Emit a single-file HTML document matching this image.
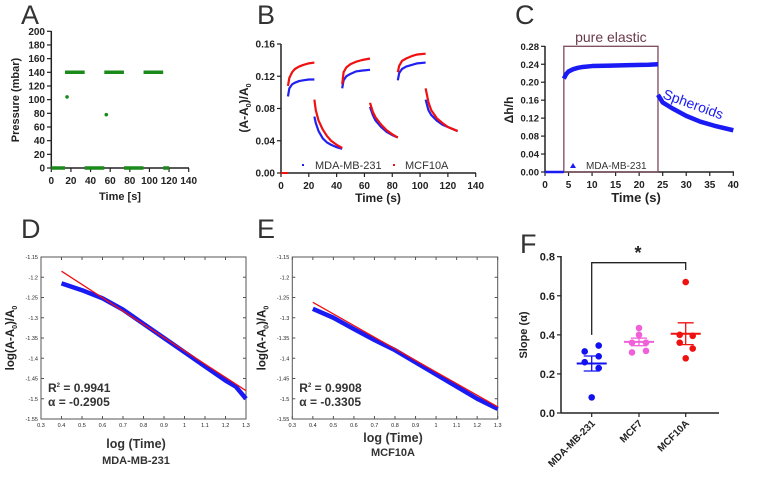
<!DOCTYPE html>
<html><head><meta charset="utf-8"><style>
body{margin:0;background:#fff;}
svg{display:block;font-family:"Liberation Sans",Arial,sans-serif;}
.t{font-weight:bold;font-size:10px;fill:#222}
.L{font-size:27px;fill:#333}
</style></head><body>
<svg id="s" width="763" height="493" viewBox="0 0 763 493"></svg>
<script>
// ---- Panel A data
const aTimes=[[0,14],[34,54],[74,94],[114,120]];
const aHigh=[[14,34],[54,74],[94,114]];
const aHighVal=140, aLowVal=0;
const aOutT=[14,54], aOutV=[104,78];
// ---- Panel B data
const bTimes=[[5,6,8,10,13,16,20,24],[24,25,27,30,33,36,40,44],[44,45,47,50,54,58,64],[64,66,68,72,76,80,84],[84,85,87,90,94,98,104],[104,106,108,112,116,120,127]];
const bBlue=[[0.095,0.105,0.110,0.112,0.114,0.115,0.116,0.116],[0.070,0.062,0.052,0.043,0.038,0.035,0.032,0.030],[0.105,0.115,0.120,0.123,0.126,0.127,0.128],[0.082,0.072,0.065,0.057,0.051,0.047,0.044],[0.115,0.124,0.129,0.132,0.134,0.136,0.137],[0.091,0.078,0.072,0.065,0.060,0.057,0.052]];
const bRed=[[0.108,0.118,0.125,0.129,0.132,0.134,0.136,0.137],[0.091,0.078,0.065,0.054,0.046,0.040,0.035,0.031],[0.110,0.125,0.131,0.135,0.138,0.140,0.142],[0.087,0.076,0.069,0.060,0.053,0.048,0.044],[0.125,0.133,0.139,0.142,0.145,0.147,0.148],[0.105,0.088,0.078,0.068,0.062,0.057,0.052]];
// ---- Panel C data
const cTimes=[[0,1,2,3,4],[4,4.5,5,6,7,8,10,14,18,22,24],[24,25,27,30,33,36,40]];
const cVals=[[0,0,0,0,0],[0.208,0.218,0.224,0.229,0.232,0.234,0.236,0.237,0.238,0.239,0.240],[0.172,0.155,0.142,0.125,0.112,0.103,0.093]];
// ---- Panel D/E data
const dX=[0.4,0.5,0.6,0.7,0.8,0.9,1.0,1.1,1.2,1.25,1.3];
const dBlue=[-1.215,-1.232,-1.252,-1.28,-1.315,-1.35,-1.385,-1.42,-1.455,-1.47,-1.5];
const dFit=[-1.185,-1.48];
const eX=[0.4,0.5,0.6,0.7,0.8,0.9,1.0,1.1,1.2,1.3];
const eBlue=[-1.278,-1.3,-1.328,-1.355,-1.38,-1.41,-1.44,-1.47,-1.5,-1.525];
const eFit=[-1.262,-1.52];
const logTicksX=[0.3,0.4,0.5,0.6,0.7,0.8,0.9,1,1.1,1.2,1.3];
const logTicksY=[-1.15,-1.2,-1.25,-1.3,-1.35,-1.4,-1.45,-1.5,-1.55];
// ---- Panel F data
const fCats=["MDA-MB-231","MCF7","MCF10A"];
const fVals=[[0.345,0.315,0.29,0.26,0.23,0.08],[0.435,0.40,0.36,0.36,0.31,0.318],[0.67,0.40,0.395,0.36,0.33,0.28]];
const fOff=[[7,-7,7,-7,7,0],[0,0,-7,7,-7,7],[0,-6,7,-6,7,0]];
const fColors=["#1010f0","#f060d8","#f01010"];

const S=document.getElementById('s');const NS='http://www.w3.org/2000/svg';
function el(t,a,p,txt){const e=document.createElementNS(NS,t);for(const k in a)e.setAttribute(k,a[k]);if(txt!==undefined)e.textContent=txt;(p||S).appendChild(e);return e;}
function lin(d0,d1,r0,r1){return v=>r0+(v-d0)/(d1-d0)*(r1-r0);}
function grp(name){const g=el('g',{});return g;}
function txt(g,x,y,s,cls,anchor,extra){
  const a={x:x,y:y,class:cls||'t','text-anchor':anchor||'middle'};let st='';
  for(const k in (extra||{})){if(k==='font-size')st+='font-size:'+extra[k]+'px;';else if(k==='fill'||k==='font-weight')st+=k+':'+extra[k]+';';else a[k]=extra[k];}
  if(st)a.style=st;return el('text',a,g,s);}
function letter(x,y,s){const g=grp('panel-label-'+s.toLowerCase());txt(g,x,y,s,'L','start');}

// ===== Panel A
letter(21,24,'A');
(function(){const g=grp('panel-a-pressure-chart');
const x=lin(0,140,51.3,188.7),y=lin(0,200,168,31.3);
el('line',{x1:51.3,y1:31,x2:51.3,y2:168,stroke:'#222','stroke-width':1.5},g);
el('line',{x1:51.3,y1:168,x2:189,y2:168,stroke:'#222','stroke-width':1.5},g);
for(let v=0;v<=200;v+=20){el('line',{x1:47,x2:51.3,y1:y(v),y2:y(v),stroke:'#222','stroke-width':1.2},g);txt(g,45,y(v)+3.5,v,'t','end');}
for(let v=0;v<=140;v+=20){el('line',{x1:x(v),x2:x(v),y1:168,y2:172,stroke:'#222','stroke-width':1.2},g);txt(g,x(v),184,v);}
txt(g,120,200,'Time [s]','t','middle',{'font-size':11});
txt(g,19,100,'Pressure (mbar)','t','middle',{transform:'rotate(-90 19 100)','font-size':11});
const sg=grp('pressure-series');
aTimes.forEach(r=>{const l=el('line',{x1:x(r[0]),x2:x(r[1]),y1:y(aLowVal),y2:y(aLowVal),stroke:'#1a8a1a','stroke-width':3.5},sg);});
aHigh.forEach(r=>{const l=el('line',{x1:x(r[0]),x2:x(r[1]),y1:y(aHighVal),y2:y(aHighVal),stroke:'#1a8a1a','stroke-width':3.5},sg);});
aOutT.forEach((t,i)=>{const c=el('circle',{cx:x(t)+2,cy:y(aOutV[i]),r:1.8,fill:'#1a8a1a'},sg);});
})();

// ===== Panel B
letter(257,24,'B');
(function(){const g=grp('panel-b-area-chart');
const x=lin(0,140,281,475.7),y=lin(0,0.16,173,44);
el('line',{x1:281,y1:44,x2:281,y2:173,stroke:'#222','stroke-width':1.5},g);
el('line',{x1:281,y1:173,x2:476,y2:173,stroke:'#222','stroke-width':1.5},g);
[0,0.04,0.08,0.12,0.16].forEach(v=>{el('line',{x1:277,x2:281,y1:y(v),y2:y(v),stroke:'#222','stroke-width':1.2},g);txt(g,275,y(v)+3.5,v.toFixed(2),'t','end');});
for(let v=0;v<=140;v+=20){el('line',{x1:x(v),x2:x(v),y1:173,y2:177,stroke:'#222','stroke-width':1.2},g);txt(g,x(v),189,v);}
txt(g,378,202,'Time (s)','t','middle',{'font-size':12});
const yt=el('text',{x:248,y:108,class:'t','text-anchor':'middle',transform:'rotate(-90 248 108)',style:'font-size:12px'},g);
yt.innerHTML='(A-A<tspan style="font-size:7px" dy="3">0</tspan><tspan dy="-3">)/A</tspan><tspan style="font-size:7px" dy="3">0</tspan>';
el('line',{x1:x(0),x2:x(5),y1:y(0),y2:y(0),stroke:'#f01010','stroke-width':2},g);
[['blue',bBlue,'#2020f0'],['red',bRed,'#f01010']].forEach(([n,arr,c])=>{
 arr.forEach((seg,i)=>{const pts=seg.map((v,j)=>x(bTimes[i][j])+','+y(v)).join(' ');
 const p=el('polyline',{points:pts,fill:'none',stroke:c,'stroke-width':2.2,'stroke-linejoin':'round'},g);});});
const lg=grp('legend');
el('rect',{x:302,y:164,width:2,height:2,fill:'#2020f0'},lg);txt(lg,315,169,'MDA-MB-231','t','start',{'font-weight':'normal','font-size':11,'fill':'#333'});
el('rect',{x:393,y:164,width:2,height:2,fill:'#f01010'},lg);txt(lg,405,169,'MCF10A','t','start',{'font-weight':'normal','font-size':11,'fill':'#333'});
})();

// ===== Panel C
letter(515,24,'C');
(function(){const g=grp('panel-c-strain-chart');
const x=lin(0,40,545,733.3),y=lin(0,0.28,172,46.3);
el('line',{x1:545,y1:46,x2:545,y2:172,stroke:'#222','stroke-width':1.5},g);
el('line',{x1:545,y1:172,x2:734,y2:172,stroke:'#222','stroke-width':1.5},g);
for(let v=0;v<=0.2801;v+=0.04){el('line',{x1:541,x2:545,y1:y(v),y2:y(v),stroke:'#222','stroke-width':1.2},g);txt(g,539,y(v)+3.5,v.toFixed(2),'t','end',{'font-size':9.5});}
for(let v=0;v<=40;v+=5){el('line',{x1:x(v),x2:x(v),y1:172,y2:176,stroke:'#222','stroke-width':1.2},g);txt(g,x(v),188,v);}
txt(g,636,202,'Time (s)','t','middle',{'font-size':13});
txt(g,513,110,'Δh/h','t','middle',{transform:'rotate(-90 513 110)','font-size':12});
const b=el('rect',{x:x(4),y:y(0.28),width:x(24)-x(4),height:y(0)-y(0.28),fill:'none',stroke:'#7a4a5a','stroke-width':1.3},g);
txt(g,x(14),42,'pure elastic','t','middle',{'font-weight':'normal','font-size':14,'fill':'#6a3a4a'});
cTimes.forEach((seg,i)=>{const pts=seg.map((t,j)=>x(t)+','+y(cVals[i][j])).join(' ');
 const p=el('polyline',{points:pts,fill:'none',stroke:'#1a1af5','stroke-width':i==0?2.5:4.5,'stroke-linejoin':'round'},g);});
txt(g,662,98,'Spheroids','t','start',{'font-weight':'normal','font-size':14,'fill':'#1a1af5',transform:'rotate(20 662 98)'});
el('polygon',{points:'570,168 573,163 576,168',fill:'#1a1af5'},g);
txt(g,586,169,'MDA-MB-231','t','start',{'font-weight':'normal','font-size':10,'fill':'#333'});
})();

// ===== Panels D / E
function logPanel(name,L,lx,x0,x1,xs,ys,fit,r2,al,cx,t1y,t2,t2y){
letter(lx,238,L);
const g=grp(name);
const x=lin(0.3,1.3,x0,x1),y=lin(-1.15,-1.55,257,419);
el('rect',{x:x0,y:257,width:x1-x0,height:162,fill:'none',stroke:'#555','stroke-width':1},g);
logTicksX.forEach(v=>{el('line',{x1:x(v),x2:x(v),y1:419,y2:416,stroke:'#555'},g);el('line',{x1:x(v),x2:x(v),y1:257,y2:260,stroke:'#555'},g);txt(g,x(v),427,String(v),'t','middle',{'font-size':5.5,'font-weight':'normal'});});
logTicksY.forEach(v=>{el('line',{x1:x0,x2:x0+3,y1:y(v),y2:y(v),stroke:'#555'},g);el('line',{x1:x1,x2:x1-3,y1:y(v),y2:y(v),stroke:'#555'},g);txt(g,x0-3,y(v)+2,String(v),'t','end',{'font-size':5.5,'font-weight':'normal'});});
const pts=xs.map((v,i)=>x(v)+','+y(ys[i])).join(' ');
const p=el('polyline',{points:pts,fill:'none',stroke:'#1a1af5','stroke-width':4.5,'stroke-linejoin':'round'},g);
const f=el('line',{x1:x(0.4),y1:y(fit[0]),x2:x(1.3),y2:y(fit[1]),stroke:'#f01010','stroke-width':1.3},g);
const r=el('text',{x:x0+7,y:392,class:'t','text-anchor':'start',style:'font-size:12px;fill:#333'},g);r.innerHTML='R<tspan style="font-size:6px" dy="-5">2</tspan><tspan dy="5"> = '+r2+'</tspan>';
txt(g,x0+7,406,'α = '+al,'t','start',{'font-size':12,fill:'#333'});
const yl=el('text',{x:x0-27,y:338,class:'t','text-anchor':'middle',transform:'rotate(-90 '+(x0-27)+' 338)',style:'font-size:11.5px'},g);
yl.innerHTML='log(A-A<tspan style="font-size:7px" dy="3">0</tspan><tspan dy="-3">)/A</tspan><tspan style="font-size:7px" dy="3">0</tspan>';
txt(g,cx,t1y,'log (Time)','t','middle',{'font-size':12.5,fill:'#333'});
txt(g,cx,t2y,t2,'t','middle',{'font-size':11,fill:'#333'});
}
logPanel('panel-d-log-chart','D',21,41,246,dX,dBlue,dFit,'0.9941','-0.2905',136,448,'MDA-MB-231',464);
logPanel('panel-e-log-chart','E',257,292.3,497.7,eX,eBlue,eFit,'0.9908','-0.3305',393,442,'MCF10A',456);

// ===== Panel F
letter(520,253,'F');
(function(){const g=grp('panel-f-slope-chart');
const y=lin(0,0.8,413,256.7);const cx=[591.7,639,685.7];
el('line',{x1:561,y1:256,x2:561,y2:413,stroke:'#222','stroke-width':1.5},g);
el('line',{x1:561,y1:413,x2:719,y2:413,stroke:'#222','stroke-width':1.5},g);
[0,0.2,0.4,0.6,0.8].forEach(v=>{el('line',{x1:557,x2:561,y1:y(v),y2:y(v),stroke:'#222','stroke-width':1.2},g);txt(g,555,y(v)+4,v.toFixed(1),'t','end',{'font-size':11});});
txt(g,527,335,'Slope (α)','t','middle',{transform:'rotate(-90 527 335)','font-size':11});
fCats.forEach((c,i)=>{el('line',{x1:cx[i],x2:cx[i],y1:413,y2:417,stroke:'#222','stroke-width':1.2},g);
 txt(g,cx[i]+4,424,c,'t','end',{transform:'rotate(-45 '+(cx[i]+4)+' 424)','font-size':10});
 const vals=fVals[i];const m=vals.reduce((a,b)=>a+b,0)/vals.length;
 const sd=Math.sqrt(vals.reduce((a,b)=>a+(b-m)*(b-m),0)/(vals.length-1));const se=sd/Math.sqrt(vals.length);
 const col=fColors[i];
 el('line',{x1:cx[i]-15,x2:cx[i]+15,y1:y(m),y2:y(m),stroke:col,'stroke-width':2},g);
 el('line',{x1:cx[i],x2:cx[i],y1:y(m-se),y2:y(m+se),stroke:col,'stroke-width':1.3},g);
 el('line',{x1:cx[i]-8,x2:cx[i]+8,y1:y(m-se),y2:y(m-se),stroke:col,'stroke-width':1.3},g);
 el('line',{x1:cx[i]-8,x2:cx[i]+8,y1:y(m+se),y2:y(m+se),stroke:col,'stroke-width':1.3},g);
 vals.forEach((v,j)=>{const d=el('circle',{cx:cx[i]+fOff[i][j],cy:y(v),r:3.3,fill:col},g);});
});
const br=el('polyline',{points:cx[0]+','+y(0.4)+' '+cx[0]+','+262.7+' '+cx[2]+','+262.7+' '+cx[2]+','+270,fill:'none',stroke:'#222','stroke-width':1.3},g);
txt(g,638,259,'*','t','middle',{'font-size':18});
})();
</script>
</body></html>
